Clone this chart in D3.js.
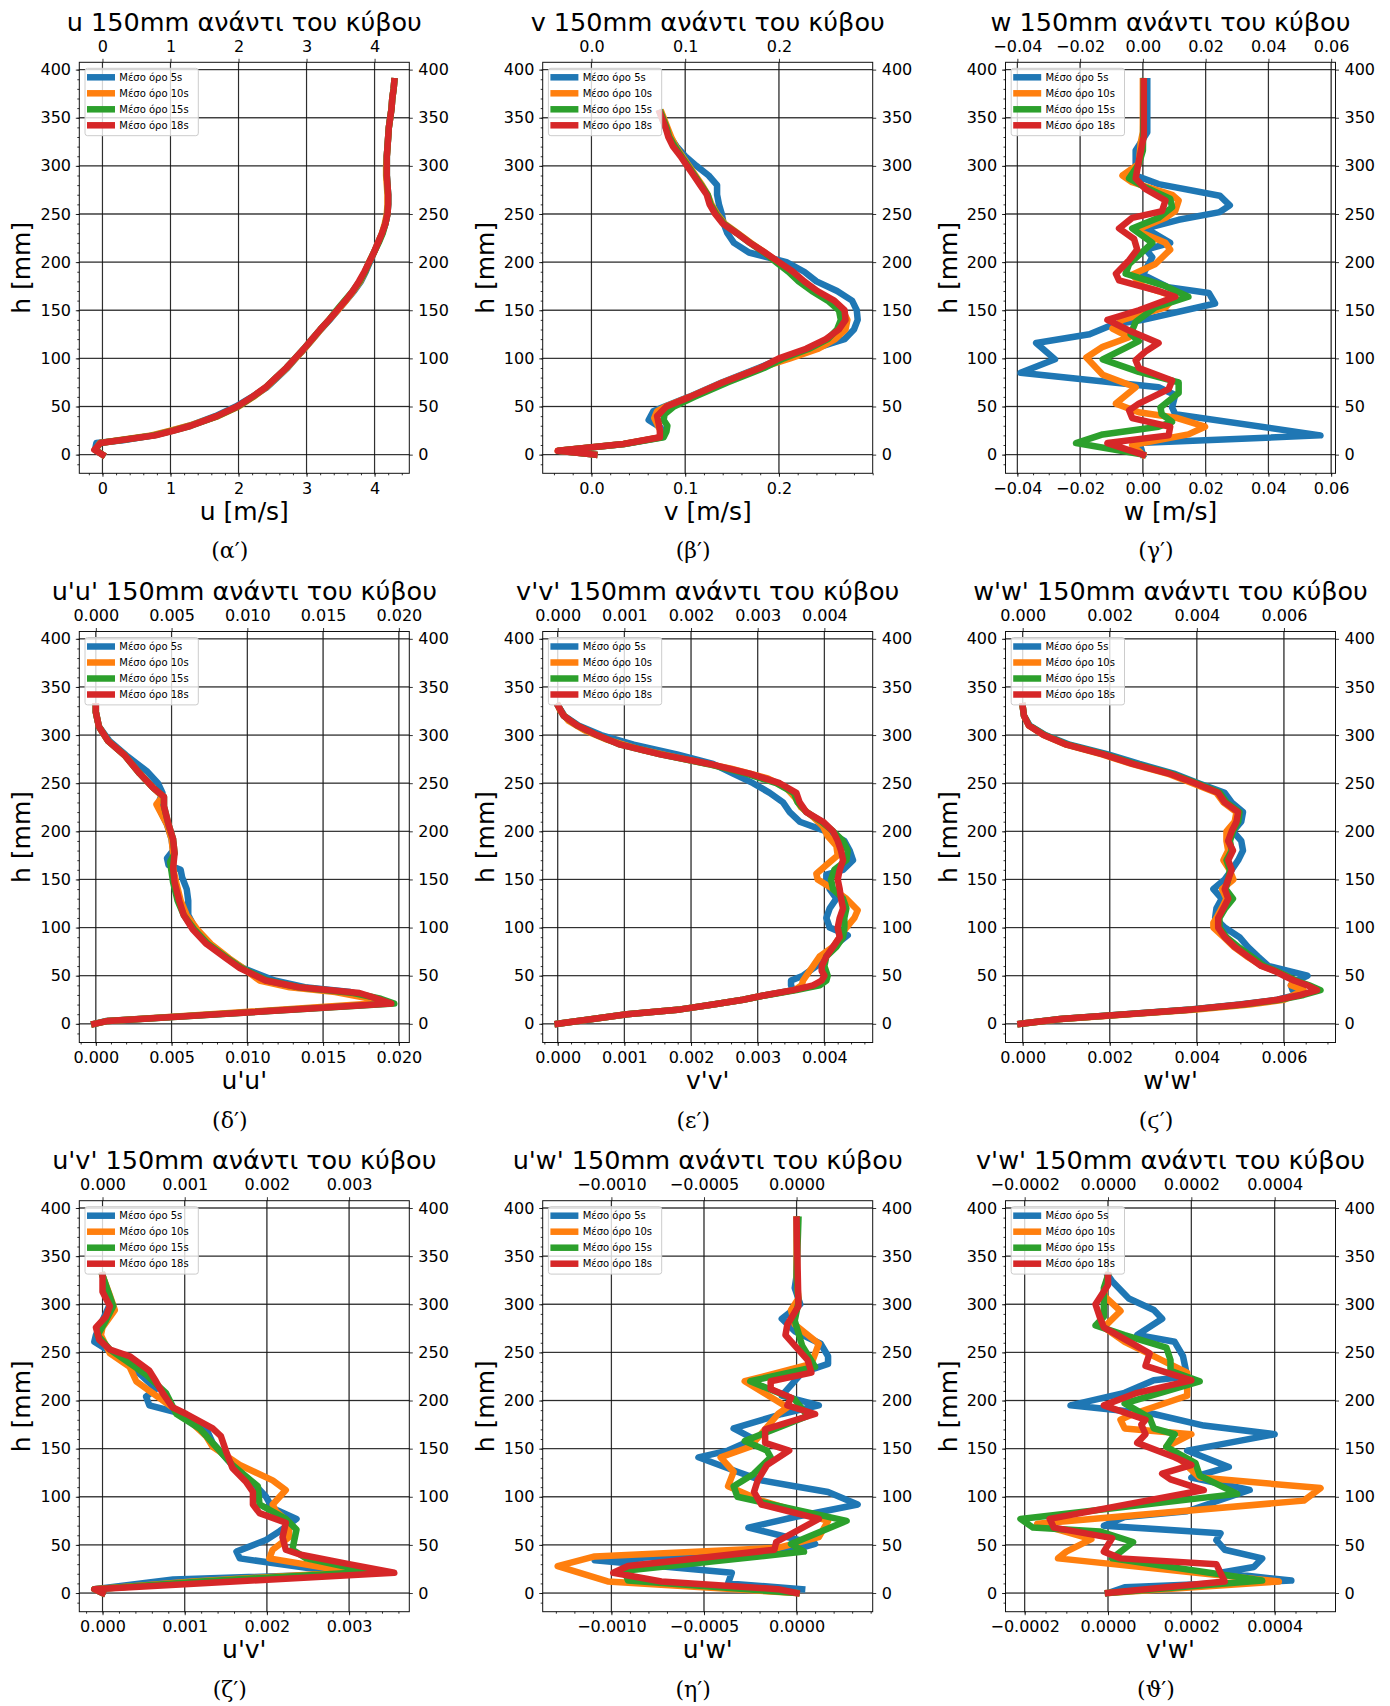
<!DOCTYPE html>
<html>
<head>
<meta charset="utf-8">
<script src="https://cdn.jsdelivr.net/npm/d3@7"></script>
<style>
  body { margin: 0; background: #fff; }
  text { font-family: "DejaVu Sans", sans-serif; fill: #000; }
</style>
</head>
<body>
<svg id="fig" width="1390" height="1706"></svg>
<script>
// Profiles 150mm upstream of the cube. Each point is [h in mm, value].

const seriesNames = ["Μέσο όρο 5s", "Μέσο όρο 10s", "Μέσο όρο 15s", "Μέσο όρο 18s"];
const hTicks = [0, 50, 100, 150, 200, 250, 300, 350, 400];

// (α') u
const u_5s = [[0,0.0],[5,-0.11],[12,-0.09],[15,0.3],[20,0.75],[25,1.02],[30,1.28],[40,1.66],[50,1.96],[60,2.2],[70,2.42],[80,2.57],[90,2.72],[100,2.84],[110,2.97],[120,3.09],[130,3.21],[140,3.34],[150,3.46],[160,3.58],[170,3.7],[180,3.8],[190,3.87],[200,3.93],[210,3.99],[220,4.05],[230,4.11],[240,4.16],[250,4.19],[260,4.2],[270,4.2],[280,4.19],[290,4.18],[300,4.18],[310,4.18],[320,4.19],[330,4.2],[340,4.21],[350,4.23],[360,4.25],[370,4.26],[380,4.28],[388,4.29]];
const u_10s = [[0,0.0],[5,-0.1],[12,-0.04],[20,0.72],[25,1.0],[30,1.27],[40,1.7],[50,2.0],[60,2.22],[70,2.41],[80,2.56],[90,2.71],[100,2.84],[110,2.97],[120,3.09],[130,3.21],[140,3.33],[150,3.46],[160,3.58],[170,3.69],[180,3.79],[190,3.86],[200,3.92],[210,3.99],[220,4.05],[230,4.11],[240,4.15],[250,4.18],[260,4.19],[270,4.19],[280,4.18],[290,4.17],[300,4.17],[310,4.18],[320,4.19],[330,4.2],[340,4.21],[350,4.23],[360,4.25],[370,4.26],[380,4.28],[388,4.29]];
const u_15s = [[0,0.0],[5,-0.11],[12,-0.03],[20,0.76],[25,1.04],[30,1.3],[40,1.69],[50,1.99],[60,2.21],[70,2.4],[80,2.55],[90,2.7],[100,2.83],[110,2.96],[120,3.08],[130,3.2],[140,3.33],[150,3.44],[160,3.56],[170,3.68],[180,3.78],[190,3.86],[200,3.92],[210,3.99],[220,4.06],[230,4.12],[240,4.16],[250,4.19],[260,4.2],[270,4.2],[280,4.19],[290,4.18],[300,4.18],[310,4.18],[320,4.19],[330,4.2],[340,4.21],[350,4.23],[360,4.25],[370,4.26],[380,4.28],[388,4.29]];
const u_18s = [[0,0.0],[5,-0.12],[12,-0.03],[20,0.78],[25,1.05],[30,1.3],[40,1.68],[50,1.98],[60,2.2],[70,2.4],[80,2.55],[90,2.7],[100,2.83],[110,2.96],[120,3.08],[130,3.2],[140,3.33],[150,3.45],[160,3.57],[170,3.68],[180,3.77],[190,3.85],[200,3.92],[210,3.99],[220,4.05],[230,4.11],[240,4.16],[250,4.19],[260,4.2],[270,4.2],[280,4.19],[290,4.18],[300,4.18],[310,4.18],[320,4.19],[330,4.2],[340,4.21],[350,4.23],[360,4.25],[370,4.26],[380,4.28],[388,4.29]];
const uTicks = [0, 1, 2, 3, 4];

// (β') v
const v_5s = [[0,0.003],[4,-0.035],[11,0.035],[18,0.075],[28,0.074],[36,0.061],[45,0.066],[50,0.078],[60,0.104],[75,0.139],[90,0.178],[100,0.203],[110,0.238],[116,0.257],[120,0.27],[130,0.28],[140,0.284],[150,0.283],[160,0.278],[170,0.262],[180,0.24],[190,0.227],[200,0.208],[210,0.168],[220,0.152],[230,0.145],[240,0.141],[250,0.139],[260,0.136],[270,0.134],[280,0.134],[290,0.125],[300,0.112],[310,0.1],[320,0.091],[330,0.084],[340,0.079],[350,0.075],[355,0.073]];
const v_10s = [[0,0.003],[4,-0.036],[11,0.034],[18,0.074],[26,0.073],[32,0.07],[38,0.067],[45,0.07],[50,0.079],[60,0.105],[75,0.14],[90,0.18],[100,0.212],[110,0.242],[120,0.26],[130,0.271],[140,0.273],[150,0.268],[160,0.257],[170,0.238],[180,0.224],[190,0.212],[200,0.199],[210,0.185],[220,0.17],[230,0.156],[240,0.142],[250,0.134],[260,0.128],[270,0.124],[280,0.118],[290,0.111],[300,0.104],[310,0.097],[320,0.09],[330,0.085],[340,0.081],[350,0.077],[355,0.075]];
const v_15s = [[0,0.003],[4,-0.035],[11,0.035],[18,0.077],[24,0.08],[30,0.081],[36,0.077],[42,0.078],[50,0.088],[60,0.11],[75,0.145],[90,0.184],[100,0.205],[110,0.232],[120,0.252],[130,0.262],[140,0.266],[150,0.264],[160,0.252],[170,0.235],[180,0.221],[190,0.21],[200,0.197],[210,0.184],[220,0.169],[230,0.155],[240,0.141],[250,0.133],[260,0.127],[270,0.124],[280,0.117],[290,0.11],[300,0.103],[310,0.096],[320,0.089],[330,0.083],[340,0.08],[350,0.076],[355,0.074]];
const v_18s = [[0,0.003],[4,-0.036],[11,0.034],[18,0.073],[25,0.073],[31,0.072],[40,0.07],[50,0.08],[60,0.105],[75,0.14],[90,0.18],[100,0.2],[110,0.229],[120,0.25],[130,0.264],[140,0.271],[150,0.27],[160,0.259],[170,0.241],[180,0.227],[190,0.215],[200,0.2],[210,0.185],[220,0.169],[230,0.155],[240,0.14],[250,0.132],[260,0.126],[270,0.123],[280,0.116],[290,0.109],[300,0.102],[310,0.095],[320,0.087],[330,0.082],[340,0.079],[350,0.075],[355,0.073]];
const vTicks = [0.0, 0.1, 0.2];

// (γ') w
const w_5s = [[0,0.0],[6,-0.0005],[12,-0.0015],[20,0.0566],[42,0.0103],[49,0.0093],[62,0.0103],[70,0.005],[85,-0.039],[99,-0.028],[116,-0.034],[125,-0.017],[135,-0.0097],[140,0.0],[157,0.023],[168,0.021],[174,0.008],[187,0.0],[205,0.003],[213,0.001],[220,0.0087],[235,0.001],[244,0.0114],[252,0.0245],[259,0.0277],[269,0.0245],[281,0.005],[290,-0.0023],[316,-0.0023],[335,0.0014],[388,0.0014]];
const w_10s = [[0,0.0],[10,-0.0034],[21,0.0145],[29,0.0198],[38,0.011],[44,-0.0013],[53,-0.0086],[70,-0.0023],[83,-0.0128],[101,-0.018],[112,-0.0128],[122,-0.0044],[131,-0.0097],[140,-0.0065],[153,0.0072],[164,0.0103],[175,0.0],[187,-0.0034],[198,0.004],[213,0.0087],[220,0.0072],[233,-0.0023],[246,0.0072],[253,0.0103],[264,0.0114],[270,0.0093],[283,-0.0034],[290,-0.0065],[302,-0.0013],[324,-0.0007],[335,0.0],[388,0.0]];
const w_15s = [[0,0.0],[12,-0.0213],[21,-0.0128],[29,0.005],[34,0.0093],[42,0.006],[49,0.0056],[64,0.0114],[75,0.0114],[86,-0.0013],[99,-0.0128],[111,-0.0055],[118,-0.0013],[125,-0.0039],[138,-0.0023],[153,0.004],[164,0.0145],[175,0.0072],[188,-0.0055],[198,-0.0044],[220,0.003],[235,-0.0034],[246,0.005],[257,0.0093],[266,0.0087],[279,0.0],[287,-0.0044],[302,-0.0013],[316,0.0],[388,0.0003]];
const w_18s = [[0,0.0],[12,-0.0113],[20,0.0082],[29,0.0087],[38,-0.0034],[46,-0.0044],[53,-0.0013],[68,0.0082],[77,0.0093],[90,-0.0013],[98,-0.0023],[107,0.0008],[116,0.005],[129,-0.0044],[140,-0.0113],[150,-0.0013],[164,0.0103],[170,0.005],[181,-0.0076],[188,-0.0086],[202,-0.0044],[213,-0.0018],[224,-0.0028],[235,-0.0076],[246,-0.0034],[253,0.0061],[264,0.0072],[276,0.0008],[287,-0.0023],[305,-0.0013],[331,0.0003],[388,0.0003]];
const wTicks = [-0.04, -0.02, 0.0, 0.02, 0.04, 0.06];

// (δ') u'u'
const uu_5s = [[0,-0.0001],[3,0.0007],[21,0.0192],[28,0.0178],[33,0.0168],[38,0.0138],[45,0.0118],[58,0.0097],[68,0.0087],[83,0.0074],[98,0.0066],[113,0.0061],[128,0.0061],[140,0.006],[152,0.0057],[160,0.0056],[165,0.0048],[172,0.0047],[180,0.0051],[192,0.005],[207,0.0047],[220,0.0043],[228,0.0041],[240,0.0044],[250,0.0041],[262,0.0034],[279,0.002],[294,0.0009],[309,0.0002],[324,0.0],[330,0.0]];
const uu_10s = [[0,-0.0001],[3,0.0008],[21,0.0183],[27,0.0178],[33,0.0158],[38,0.0128],[45,0.0108],[58,0.0097],[68,0.0088],[83,0.0076],[98,0.0067],[113,0.006],[128,0.0056],[147,0.0053],[162,0.0051],[177,0.0051],[192,0.005],[207,0.0047],[222,0.0042],[228,0.004],[236,0.0044],[245,0.0038],[260,0.0029],[279,0.0019],[294,0.0008],[309,0.0002],[324,0.0],[330,0.0]];
const uu_15s = [[0,-0.0001],[3,0.0008],[21,0.0197],[26,0.0188],[32,0.017],[38,0.0134],[45,0.0113],[58,0.0096],[68,0.0087],[83,0.0074],[98,0.0065],[113,0.0058],[128,0.0054],[147,0.0051],[158,0.005],[168,0.0049],[177,0.0052],[192,0.0051],[207,0.0048],[226,0.0045],[236,0.0045],[245,0.0038],[260,0.0029],[279,0.0019],[294,0.0008],[309,0.0002],[324,0.0],[330,0.0]];
const uu_18s = [[0,-0.0001],[3,0.0008],[21,0.0195],[28,0.0182],[32,0.0174],[38,0.0134],[45,0.0112],[58,0.0095],[68,0.0086],[83,0.0073],[98,0.0064],[113,0.0058],[128,0.0055],[147,0.0052],[162,0.0051],[177,0.0052],[192,0.0051],[207,0.0048],[226,0.0045],[236,0.0045],[245,0.0038],[260,0.0029],[279,0.0019],[294,0.0008],[309,0.0002],[324,0.0],[330,0.0]];
const uuTicks = [0.0, 0.005, 0.010, 0.015, 0.020];

// (ε') v'v'
const vv_5s = [[0,0.0],[10,0.00104],[15,0.00184],[20,0.00233],[25,0.00278],[30,0.00313],[35,0.00353],[40,0.0035],[45,0.0035],[50,0.00368],[60,0.00388],[70,0.00398],[80,0.00413],[92,0.00435],[100,0.00408],[110,0.00403],[120,0.00408],[130,0.00418],[140,0.00408],[150,0.00403],[155,0.00403],[160,0.00428],[170,0.00443],[180,0.00438],[190,0.0043],[200,0.00403],[210,0.00363],[220,0.00348],[230,0.00338],[240,0.00318],[250,0.00293],[260,0.00263],[270,0.00233],[280,0.00179],[290,0.00114],[300,0.00065],[310,0.00031],[320,0.0001],[330,0.00001]];
const vv_10s = [[0,0.0],[10,0.00104],[15,0.00184],[20,0.00233],[25,0.00278],[30,0.00313],[35,0.00355],[40,0.00366],[45,0.00368],[50,0.00373],[60,0.00383],[70,0.00393],[80,0.00413],[90,0.00423],[100,0.00433],[110,0.00445],[118,0.0045],[130,0.00433],[140,0.00413],[150,0.0039],[156,0.00388],[165,0.00403],[175,0.0042],[185,0.00418],[195,0.00405],[205,0.00398],[215,0.00383],[225,0.00365],[235,0.00356],[245,0.00343],[255,0.00315],[265,0.0026],[275,0.0019],[285,0.00124],[295,0.00075],[305,0.0004],[315,0.00016],[325,0.00004],[330,0.00001]];
const vv_15s = [[0,0.0],[10,0.00104],[15,0.00184],[20,0.00233],[25,0.00278],[30,0.00315],[35,0.00358],[40,0.00393],[45,0.00403],[50,0.00405],[60,0.004],[70,0.00403],[80,0.00418],[90,0.00428],[100,0.0043],[110,0.0043],[120,0.00433],[130,0.00428],[140,0.00413],[150,0.0041],[160,0.00415],[170,0.00433],[180,0.00435],[190,0.00428],[200,0.00413],[210,0.00396],[220,0.00373],[230,0.0036],[240,0.00354],[250,0.00328],[260,0.00283],[270,0.00225],[280,0.00154],[290,0.00094],[300,0.00059],[310,0.00029],[320,0.00009],[330,0.00001]];
const vv_18s = [[0,0.0],[10,0.00104],[15,0.00184],[20,0.00233],[25,0.00278],[30,0.00313],[35,0.00353],[40,0.00383],[45,0.00396],[50,0.004],[55,0.00396],[60,0.00396],[70,0.00403],[80,0.00413],[90,0.00423],[100,0.0042],[110,0.00423],[120,0.00428],[130,0.00425],[140,0.00423],[150,0.0042],[160,0.00423],[170,0.00428],[180,0.00425],[190,0.0042],[200,0.00413],[210,0.00398],[220,0.00373],[230,0.00363],[240,0.00358],[250,0.00333],[260,0.00288],[270,0.00228],[280,0.00154],[290,0.00094],[300,0.00059],[310,0.00029],[320,0.00009],[330,0.00001]];
const vvTicks = [0.0, 0.001, 0.002, 0.003, 0.004];

// (ϛ') w'w'
const ww_5s = [[0,-0.00005],[5,0.00086],[10,0.00235],[15,0.00385],[20,0.00498],[25,0.00585],[30,0.00628],[35,0.0062],[40,0.00616],[45,0.0063],[50,0.00654],[55,0.0061],[60,0.00565],[70,0.0054],[80,0.00517],[90,0.00498],[100,0.00464],[110,0.00442],[120,0.00445],[130,0.00457],[140,0.00438],[150,0.00464],[160,0.0048],[170,0.00495],[180,0.00506],[190,0.00502],[200,0.00483],[210,0.00502],[220,0.00506],[230,0.0048],[240,0.00464],[250,0.00404],[260,0.00347],[270,0.00268],[280,0.00196],[290,0.00108],[300,0.00052],[310,0.00016],[320,0.00003],[330,0.0]];
const ww_10s = [[0,-0.00005],[5,0.0009],[10,0.00245],[15,0.004],[20,0.0052],[25,0.006],[30,0.00623],[35,0.00645],[40,0.00616],[45,0.00623],[50,0.00605],[55,0.0058],[60,0.0055],[70,0.00515],[80,0.00485],[90,0.00462],[100,0.00438],[105,0.00438],[110,0.00445],[120,0.00457],[130,0.00468],[140,0.00458],[150,0.00484],[160,0.00475],[170,0.00461],[180,0.00472],[190,0.00468],[200,0.00468],[210,0.00487],[220,0.00491],[230,0.00461],[240,0.00445],[250,0.0039],[260,0.00332],[270,0.0025],[280,0.00182],[290,0.001],[300,0.00048],[310,0.00014],[320,0.00003],[330,0.0]];
const ww_15s = [[0,-0.00005],[5,0.00086],[10,0.00238],[15,0.0039],[20,0.00505],[25,0.0059],[30,0.00645],[35,0.00684],[40,0.00658],[45,0.00627],[50,0.00605],[55,0.00582],[60,0.00555],[70,0.00525],[80,0.00495],[90,0.00468],[100,0.00452],[110,0.00452],[120,0.00465],[130,0.00483],[140,0.00466],[150,0.00472],[160,0.00476],[170,0.00468],[180,0.0048],[190,0.00476],[200,0.00483],[210,0.00495],[220,0.00498],[230,0.00468],[240,0.00453],[250,0.004],[260,0.0034],[270,0.00257],[280,0.00188],[290,0.00103],[300,0.0005],[310,0.00015],[320,0.00003],[330,0.0]];
const ww_18s = [[0,-0.00005],[5,0.00086],[10,0.00238],[15,0.00389],[20,0.00502],[25,0.00585],[30,0.00638],[35,0.00676],[40,0.00654],[45,0.00623],[50,0.006],[55,0.00578],[60,0.00548],[65,0.00533],[70,0.00517],[80,0.00487],[90,0.00464],[100,0.00449],[110,0.00449],[120,0.00461],[130,0.00472],[140,0.00464],[150,0.00472],[160,0.0048],[170,0.00472],[180,0.00483],[190,0.00472],[200,0.0048],[210,0.00491],[220,0.00495],[230,0.00464],[240,0.00449],[250,0.00396],[260,0.00336],[270,0.00253],[280,0.00185],[290,0.00101],[300,0.00048],[310,0.00014],[320,0.00003],[330,0.0]];
const wwTicks = [0.0, 0.002, 0.004, 0.006];

// (ζ') u'v'
const uv_5s = [[0,0.0],[4,-0.0001],[14,0.00086],[20,0.003],[36,0.00167],[43,0.00163],[55,0.00199],[64,0.00215],[77,0.00236],[88,0.00207],[100,0.00199],[111,0.00187],[133,0.00158],[156,0.00134],[171,0.00126],[186,0.00098],[195,0.00057],[204,0.00053],[212,0.00065],[231,0.00041],[249,0.00013],[261,-0.0001],[268,-0.00008],[302,0.0001],[330,0.0]];
const uv_10s = [[0,0.0],[4,-0.0001],[12,0.0011],[22,0.0031],[25,0.0028],[36,0.00203],[45,0.00207],[58,0.00227],[73,0.00227],[85,0.00211],[92,0.00207],[107,0.00223],[117,0.00207],[133,0.00167],[152,0.00134],[163,0.00126],[182,0.00102],[193,0.00085],[220,0.00041],[235,0.00033],[249,0.00009],[268,-0.00002],[276,0.0],[294,0.00015],[309,0.00009],[330,0.0]];
const uv_15s = [[0,0.0],[4,-0.0001],[12,0.0012],[22,0.00325],[36,0.00248],[45,0.00231],[66,0.00236],[77,0.00223],[92,0.00191],[111,0.00189],[133,0.00158],[152,0.00138],[171,0.00118],[186,0.0009],[208,0.00077],[227,0.00053],[253,0.00009],[268,-0.00006],[283,0.00004],[298,0.00013],[330,0.0]];
const uv_18s = [[0,0.0],[4,-0.0001],[12,0.0016],[21,0.00355],[30,0.003],[40,0.0024],[45,0.00223],[58,0.00219],[73,0.00223],[83,0.00191],[92,0.00183],[105,0.00183],[115,0.00175],[130,0.00158],[148,0.0015],[163,0.00144],[171,0.00134],[186,0.00102],[193,0.00085],[208,0.00073],[220,0.00065],[231,0.00057],[246,0.00033],[253,0.00009],[263,-0.00004],[276,-0.00008],[287,0.00004],[298,0.00009],[313,0.0],[330,0.0]];
const uvTicks = [0.0, 0.001, 0.002, 0.003];

// (η') u'w'
const uw_5s = [[4,0.00003],[10,-0.00037],[21,-0.00035],[34,-0.00109],[45,-0.00001],[51,0.0001],[68,-0.00026],[79,-0.00001],[92,0.00033],[105,0.00017],[111,-0.00001],[117,-0.00019],[126,-0.00032],[141,-0.00053],[148,-0.00037],[160,-0.00023],[171,-0.00034],[186,-0.00008],[195,0.00012],[205,-0.00008],[229,0.00003],[238,0.00017],[246,0.00017],[259,0.00013],[272,-0.00001],[285,-0.00008],[300,0.00002],[317,-0.00001],[330,0.0],[388,0.0]];
const uw_10s = [[0,0.0],[12,-0.00102],[28,-0.00129],[38,-0.00109],[47,-0.0001],[58,0.00012],[75,0.00017],[96,-0.00019],[111,-0.00037],[126,-0.00034],[141,-0.00041],[152,-0.00025],[186,-0.0001],[193,-0.00005],[220,-0.00028],[238,0.00008],[259,0.00012],[279,-0.00001],[294,-0.00003],[306,0.00001],[330,0.0],[388,0.0]];
const uw_15s = [[0,0.0],[13,-0.00091],[23,-0.00093],[43,0.00004],[51,-0.00003],[75,0.00027],[100,-0.00032],[111,-0.00034],[124,-0.00023],[141,-0.00014],[148,-0.00016],[158,-0.00028],[184,0.00006],[201,-0.00001],[220,-0.00025],[235,0.0001],[257,0.00003],[283,-0.00001],[302,0.00001],[330,0.0],[388,0.00001]];
const uw_18s = [[0,0.0],[4,-0.0001],[12,-0.00073],[21,-0.00099],[28,-0.00091],[45,-0.00012],[53,-0.00011],[77,0.00012],[92,-0.00019],[105,-0.00023],[117,-0.00021],[133,-0.00016],[148,-0.00004],[156,-0.00017],[170,-0.00017],[186,0.0001],[195,-0.00005],[203,-0.00003],[212,-0.00014],[220,-0.00014],[229,0.00008],[242,0.00006],[268,-0.00006],[279,-0.00005],[298,0.00001],[388,0.0]];
const uwTicks = [-0.0010, -0.0005, 0.0];

// (ϑ') v'w'
const vw_5s = [[0,0.0],[6,0.00004],[13,0.00044],[21,0.00027],[27,0.00035],[36,0.00037],[45,0.00028],[55,0.00026],[62,0.00027],[70,-0.00001],[79,0.00004],[85,0.00019],[107,0.00034],[120,0.0002],[131,0.00029],[148,0.00019],[165,0.0004],[174,0.00023],[186,0.00011],[195,-0.00009],[208,0.00004],[221,0.00011],[225,0.00019],[246,0.00018],[261,0.00016],[268,0.00007],[285,0.00013],[294,0.00011],[306,0.00005],[324,0.00001],[330,0.0]];
const vw_10s = [[0,0.0],[12,0.00041],[36,-0.00012],[43,-0.0001],[56,-0.00004],[72,-0.00017],[96,0.00047],[109,0.00051],[120,0.00022],[152,0.00014],[165,0.0002],[171,0.00004],[180,0.00003],[186,0.00006],[205,0.00019],[212,0.00019],[229,0.00019],[261,0.00004],[276,-0.00001],[293,0.00003],[309,-0.00001],[330,0.0]];
const vw_15s = [[0,0.0],[13,0.00037],[36,0.00001],[53,0.00006],[64,-0.00002],[68,-0.00018],[77,-0.00021],[103,0.00031],[122,0.00022],[135,0.00021],[152,0.00014],[165,0.00016],[171,0.00011],[182,0.0001],[197,0.00004],[220,0.00022],[231,0.00015],[242,0.00015],[255,0.00014],[268,0.00004],[278,-0.00003],[287,-0.00001],[302,-0.00001],[317,-0.00001],[330,0.0]];
const vw_18s = [[0,0.0],[12,0.00028],[30,0.00026],[36,0.00003],[43,-0.00001],[57,0.00001],[68,-0.00013],[77,-0.00014],[107,0.00023],[118,0.00015],[124,0.00013],[133,0.0002],[141,0.00016],[156,0.00007],[165,0.00009],[175,0.00008],[180,0.00009],[195,-0.00001],[208,0.00007],[221,0.0002],[236,0.00009],[249,0.0001],[276,-0.00001],[287,-0.00002],[300,-0.00003],[320,0.0],[330,0.0]];
const vwTicks = [-0.0002, 0.0, 0.0002, 0.0004];


let colors = ["#1f77b4", "#ff7f0e", "#2ca02c", "#d62728"];

let panels = [
    {title: "u 150mm ανάντι του κύβου",   xlabel: "u [m/s]", caption: "(α′)", data: [u_5s, u_10s, u_15s, u_18s],     ticks: uTicks,  fmt: ".0f", minor: 0.2},
    {title: "v 150mm ανάντι του κύβου",   xlabel: "v [m/s]", caption: "(β′)", data: [v_5s, v_10s, v_15s, v_18s],     ticks: vTicks,  fmt: ".1f", minor: 0.02},
    {title: "w 150mm ανάντι του κύβου",   xlabel: "w [m/s]", caption: "(γ′)", data: [w_5s, w_10s, w_15s, w_18s],     ticks: wTicks,  fmt: ".2f", minor: 0.005},
    {title: "u'u' 150mm ανάντι του κύβου", xlabel: "u'u'",   caption: "(δ′)", data: [uu_5s, uu_10s, uu_15s, uu_18s], ticks: uuTicks, fmt: ".3f", minor: 0.001},
    {title: "v'v' 150mm ανάντι του κύβου", xlabel: "v'v'",   caption: "(ε′)", data: [vv_5s, vv_10s, vv_15s, vv_18s], ticks: vvTicks, fmt: ".3f", minor: 0.0002},
    {title: "w'w' 150mm ανάντι του κύβου", xlabel: "w'w'",   caption: "(ϛ′)", data: [ww_5s, ww_10s, ww_15s, ww_18s], ticks: wwTicks, fmt: ".3f", minor: 0.0005},
    {title: "u'v' 150mm ανάντι του κύβου", xlabel: "u'v'",   caption: "(ζ′)", data: [uv_5s, uv_10s, uv_15s, uv_18s], ticks: uvTicks, fmt: ".3f", minor: 0.0002},
    {title: "u'w' 150mm ανάντι του κύβου", xlabel: "u'w'",   caption: "(η′)", data: [uw_5s, uw_10s, uw_15s, uw_18s], ticks: uwTicks, fmt: ".4f", minor: 0.0001},
    {title: "v'w' 150mm ανάντι του κύβου", xlabel: "v'w'",   caption: "(ϑ′)", data: [vw_5s, vw_10s, vw_15s, vw_18s], ticks: vwTicks, fmt: ".4f", minor: 0.00005}
];

// axes boxes in page pixels
let colLeft = [79.3, 542.7, 1005.5];
let rowTop = [62.3, 631.5, 1200.7];
let axW = 330, axH = 411;

let svg = d3.select("#fig");

panels.forEach(function(p, i) {
    let col = i % 3, row = Math.floor(i / 3);
    let left = colLeft[col], top = rowTop[row], h = axH;

    // x limits like matplotlib autoscale: data extent + 5% margin
    let all = p.data.flat();
    let ext = d3.extent(all, d => d[1]);
    let pad = (ext[1] - ext[0]) * 0.05;
    let x = d3.scaleLinear().domain([ext[0] - pad, ext[1] + pad]).range([0, axW]);
    let y = d3.scaleLinear().domain([-19.4, 407.6]).range([h, 0]);

    let g = svg.append("g").attr("transform", "translate(" + left + "," + top + ")");

    // grid (bottom/left grey, top/right black)
    let grid = g.append("g");
    [["#8c8c8c", 1.3], ["#000", 0.7]].forEach(function(s) {
        grid.selectAll(null).data(p.ticks).enter().append("line")
            .attr("x1", d => x(d)).attr("x2", d => x(d)).attr("y1", 0).attr("y2", h)
            .attr("stroke", s[0]).attr("stroke-width", s[1]);
        grid.selectAll(null).data(hTicks).enter().append("line")
            .attr("y1", d => y(d)).attr("y2", d => y(d)).attr("x1", 0).attr("x2", axW)
            .attr("stroke", s[0]).attr("stroke-width", s[1]);
    });

    // profiles
    let line = d3.line().x(d => x(d[1])).y(d => y(d[0]));
    p.data.forEach(function(s, k) {
        g.append("path")
            .datum(s)
            .attr("d", line)
            .attr("fill", "none")
            .attr("stroke", colors[k])
            .attr("stroke-width", 6.5)
            .attr("stroke-linejoin", "round")
            .attr("stroke-linecap", "square");
    });

    // spines
    g.append("rect").attr("width", axW).attr("height", h)
        .attr("fill", "none").attr("stroke", "#111").attr("stroke-width", 1);

    let fmt = d3.format(p.fmt);
    let xd = x.domain();
    let minorX = d3.range(Math.ceil(xd[0] / p.minor - 1e-6), Math.floor(xd[1] / p.minor + 1e-6) + 1).map(k => k * p.minor);
    let minorY = d3.range(-1, 41).map(k => k * 10);

    function styleAxis(sel) {
        sel.select(".domain").remove();
        sel.selectAll("text").attr("font-size", 16).attr("font-family", "DejaVu Sans");
        sel.selectAll("line").attr("stroke", "#000").attr("stroke-width", 0.8);
    }

    g.append("g").attr("transform", "translate(0," + h + ")")
        .call(d3.axisBottom(x).tickValues(minorX).tickSize(2).tickFormat(""))
        .call(styleAxis);
    g.append("g").attr("transform", "translate(0," + h + ")")
        .call(d3.axisBottom(x).tickValues(p.ticks).tickFormat(fmt).tickSize(3.5).tickPadding(5.8))
        .call(styleAxis);
    g.append("g")
        .call(d3.axisTop(x).tickValues(p.ticks).tickFormat(fmt).tickSize(3.5).tickPadding(7))
        .call(styleAxis);
    g.append("g")
        .call(d3.axisLeft(y).tickValues(minorY).tickSize(2).tickFormat(""))
        .call(styleAxis);
    g.append("g")
        .call(d3.axisLeft(y).tickValues(hTicks).tickFormat(d3.format("d")).tickSize(3.5).tickPadding(4.8))
        .call(styleAxis);
    g.append("g").attr("transform", "translate(" + axW + ",0)")
        .call(d3.axisRight(y).tickValues(hTicks).tickFormat(d3.format("d")).tickSize(3.5).tickPadding(5.5))
        .call(styleAxis);

    // legend
    let lg = g.append("g").attr("transform", "translate(5.7,6)");
    lg.append("rect").attr("width", 113.3).attr("height", 67.4).attr("rx", 2.5)
        .attr("fill", "#fff").attr("fill-opacity", 0.8).attr("stroke", "#cccccc").attr("stroke-width", 1);
    seriesNames.forEach(function(name, k) {
        let yy = 9 + k * 16;
        lg.append("line").attr("x1", 2).attr("x2", 30).attr("y1", yy).attr("y2", yy)
            .attr("stroke", colors[k]).attr("stroke-width", 6.5);
        lg.append("text").attr("x", 34.3).attr("y", yy).attr("dy", "0.35em")
            .attr("font-size", 10).text(name);
    });

    // texts
    g.append("text").attr("x", axW / 2).attr("y", -31.6).attr("text-anchor", "middle")
        .attr("font-size", 25.5).text(p.title);
    g.append("text").attr("x", axW / 2).attr("y", h + 46.5).attr("text-anchor", "middle")
        .attr("font-size", 25).text(p.xlabel);
    g.append("text").attr("transform", "translate(-57.6," + (h / 2) + ") rotate(-90)")
        .attr("text-anchor", "middle").attr("dy", "0.35em")
        .attr("font-size", 25).text("h [mm]");
    g.append("text").attr("x", axW / 2 - 14.5).attr("y", h + 85).attr("text-anchor", "middle")
        .attr("font-size", 22).style("font-family", "'DejaVu Serif', serif").text(p.caption);
});
</script>
</body>
</html>
